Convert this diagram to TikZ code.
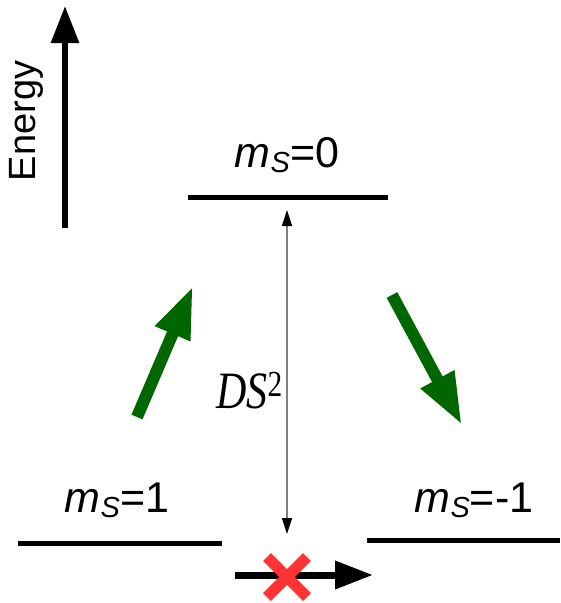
\documentclass[tikz,border=0pt]{standalone}
\usepackage{fontspec}
\usepackage{graphicx}
\setmainfont{Liberation Serif}
\setsansfont{Liberation Sans}
\usetikzlibrary{arrows.meta,positioning}
\definecolor{pumpgreen}{HTML}{006600}
\definecolor{crossred}{HTML}{FF3333}
\definecolor{splitgray}{HTML}{808080}

\begin{document}
\begin{tikzpicture}[
  x=1pt, y=-1pt,
  font=\sffamily,
  level/.style={line width=5pt},
  statelabel/.style={anchor=base, inner sep=0pt,
    font=\sffamily\fontsize{43}{47}\selectfont},
  axis/.style={line width=6pt, -{Triangle[length=37pt,width=27pt]}},
  pump/.style={draw=pumpgreen, line width=12pt,
    -{Triangle[length=52pt,width=35pt]}},
  split/.style={draw=splitgray, line width=1.3pt,
    {Triangle[length=16pt,width=10pt,fill=black,color=black]}-{Triangle[length=16pt,width=10pt,fill=black,color=black]}},
  cross/.style={draw=crossred, line width=11pt}
]
\useasboundingbox (0,0) rectangle (561,603);

% energy axis
\coordinate (axisbot) at (65,228);
\coordinate (axistop) at (65,6);
\draw[axis] (axisbot) -- (axistop);
\node[rotate=90, font=\sffamily\fontsize{38}{42}\selectfont] (energy) at (26,121) {Energy};

% levels
\coordinate (l0a) at (188,197); \coordinate (l0b) at (388,197);
\coordinate (l1a) at (18,543);  \coordinate (l1b) at (222,543);
\coordinate (lma) at (367,540); \coordinate (lmb) at (560,540);
\foreach \a/\b in {l0a/l0b,l1a/l1b,lma/lmb}
  \draw[level] (\a) -- (\b);

\newcommand{\msub}{\textit{m}\raisebox{-0.13em}{\fontsize{29}{32}\selectfont\textit{S}}}
\node[statelabel] (lab0) at (287,167) {\msub=0};
\node[statelabel] (lab1) at (117,512) {\msub=1};
\node[statelabel] (labm) at (474,512) {\msub=-1};

% zero-field splitting
\coordinate (dtop) at (287,210);
\coordinate (dbot) at (287,534);
\draw[split] (dbot) -- (dtop);
\node[anchor=base west, inner sep=0pt, font=\rmfamily\fontsize{42}{46}\selectfont]
  (dslabel) at (216,408) {\scalebox{1}[1.25]{\textit{DS}\textsuperscript{2}}};

% optical pumping
\coordinate (upt) at (137,417); \coordinate (uph) at (193,286);
\coordinate (dnt) at (392,295); \coordinate (dnh) at (462,425);
\draw[pump] (upt) -- (uph);
\draw[pump] (dnt) -- (dnh);

% forbidden transition
\coordinate (ft) at (235,575);
\coordinate (fh) at (373,575);
\draw[axis, line width=7pt, -{Triangle[length=38pt,width=27pt]}] (ft) -- (fh);
\coordinate (xa) at (267,557); \coordinate (xb) at (307,597);
\coordinate (xc) at (267,597); \coordinate (xd) at (307,557);
\draw[cross] (xa) -- (xb);
\draw[cross] (xc) -- (xd);

\end{tikzpicture}
\end{document}
